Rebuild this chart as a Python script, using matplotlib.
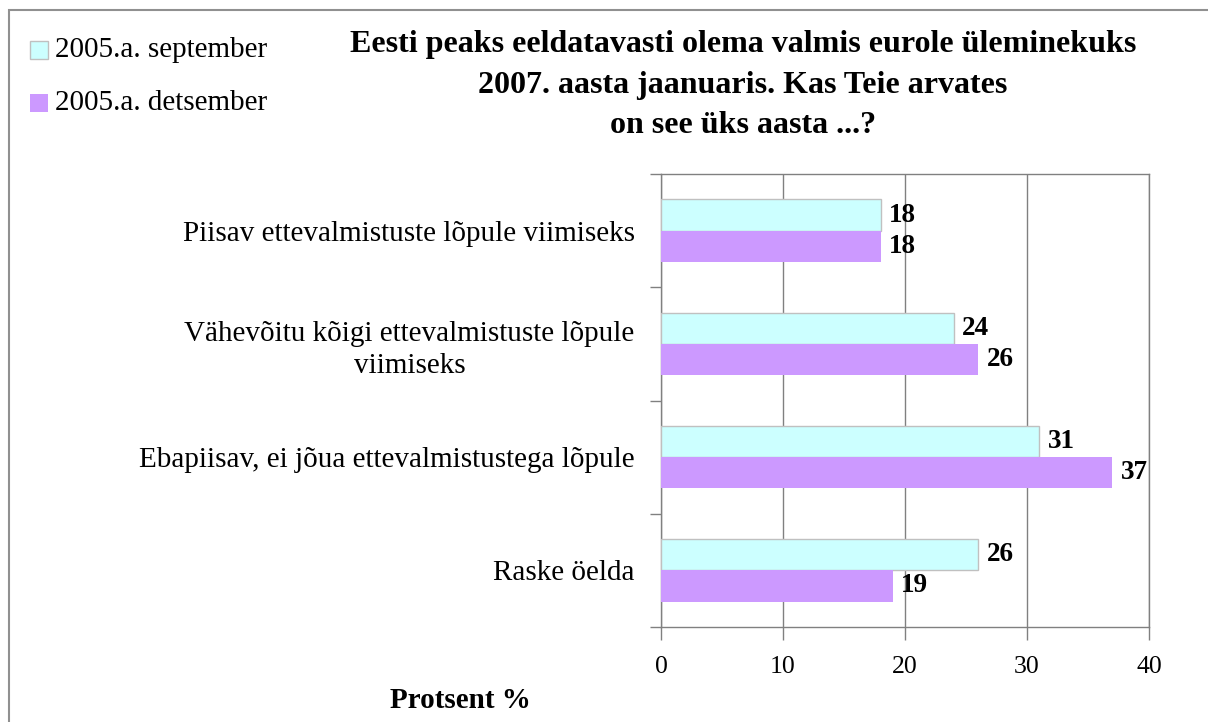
import matplotlib
matplotlib.use("Agg")
import matplotlib.pyplot as plt
from matplotlib.patches import Rectangle
import numpy as np

categories = ["Piisav ettevalmistuste lõpule viimiseks",
              "Vähevõitu kõigi ettevalmistuste lõpule\nviimiseks",
              "Ebapiisav, ei jõua ettevalmistustega lõpule",
              "Raske öelda"]
september = [18, 24, 31, 26]
detsember = [18, 26, 37, 19]
series_names = ["2005.a. september", "2005.a. detsember"]
xticks = [0, 10, 20, 30, 40]
title = ("Eesti peaks eeldatavasti olema valmis eurole üleminekuks\n"
         "2007. aasta jaanuaris. Kas Teie arvates\non see üks aasta ...?")
xlabel = "Protsent %"

plt.rcParams['font.family'] = ['Liberation Serif', 'DejaVu Serif']

W, H = 1208, 722
fig = plt.figure(figsize=(W / 100, H / 100), dpi=100)
fig.patch.set_facecolor('white')

# outer border
fig.add_artist(Rectangle((9 / W, -0.1), 1.2, 1 - 10 / H + 0.1, transform=fig.transFigure,
                         fill=False, edgecolor='#909090', linewidth=1.5))

left, right, top, bottom = 661 / W, 1149 / W, 1 - 174 / H, 1 - 627 / H
ax = fig.add_axes([left, bottom, right - left, top - bottom])

y = np.arange(len(categories))
bh = 0.275
c1, c2 = '#CCFFFF', '#CC99FF'
b1 = ax.barh(y - bh / 2, september, height=bh, color=c1, edgecolor='#C0C0C0', linewidth=1, zorder=3)
b2 = ax.barh(y + bh / 2, detsember, height=bh, color=c2, edgecolor='none', zorder=3)

for bars, vals in ((b1, september), (b2, detsember)):
    for b, v in zip(bars, vals):
        ax.text(v + 0.7, b.get_y() + b.get_height() / 2, str(v), ha='left', va='center',
                fontsize=19.5, fontweight='bold', color='black')

ax.set_xlim(0, 40)
ax.set_ylim(len(categories) - 0.5, -0.5)
ax.set_xticks(xticks)
ax.set_xticklabels([str(t) for t in xticks], fontsize=18.5)
ax.tick_params(axis='x', length=9, width=1, color='#808080', pad=12, direction='out')
ax.set_yticks(y)
ax.set_yticklabels(categories, fontsize=21, linespacing=1.3)
ax.tick_params(axis='y', which='major', length=0, pad=19)
for lab in ax.get_yticklabels():
    lab.set_multialignment('center')
ax.set_yticks(np.arange(-0.5, len(categories), 1), minor=True)
ax.tick_params(axis='y', which='minor', length=8, width=1, color='#808080', direction='out')

ax.grid(axis='x', color='#808080', linewidth=1, zorder=0)
ax.set_axisbelow(True)
for s in ax.spines.values():
    s.set_color('#808080')
    s.set_linewidth(1)

fig.text(743 / W, 1 - 85 / H, title, ha='center', va='center', fontsize=23,
         fontweight='bold', linespacing=1.52)
fig.text(460 / W, 1 - 700 / H, xlabel, ha='center', va='center', fontsize=21, fontweight='bold')

# legend
for i, (name, c, ec) in enumerate(zip(series_names, [c1, c2], ['#C0C0C0', 'none'])):
    yc = 50 + 53 * i
    fig.add_artist(Rectangle((30 / W, 1 - (yc + 9) / H), 18 / W, 18 / H, transform=fig.transFigure,
                             facecolor=c, edgecolor=ec, linewidth=1))
    fig.text(55 / W, 1 - yc / H, name, ha='left', va='center', fontsize=21)

fig.savefig("out.png", dpi=100, facecolor='white')
